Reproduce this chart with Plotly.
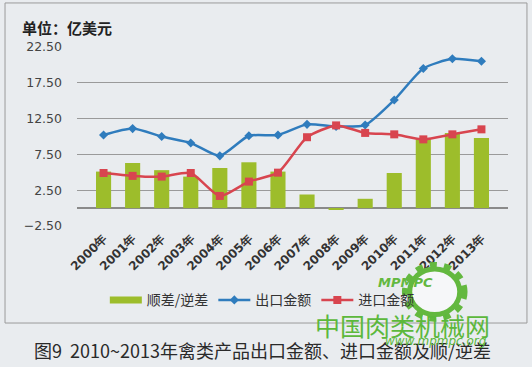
import plotly.graph_objects as go

years = ["2000年", "2001年", "2002年", "2003年", "2004年", "2005年", "2006年",
         "2007年", "2008年", "2009年", "2010年", "2011年", "2012年", "2013年"]
balance = [5.1, 6.3, 5.3, 4.4, 5.6, 6.4, 5.1, 1.9, -0.2, 1.3, 4.9, 9.7, 10.5, 9.8]
exports = [10.2, 11.1, 10.0, 9.1, 7.3, 10.1, 10.2, 11.7, 11.4, 11.6, 15.1, 19.5, 20.85, 20.5]
imports = [4.9, 4.5, 4.4, 4.9, 1.7, 3.7, 4.95, 9.9, 11.55, 10.5, 10.3, 9.6, 10.3, 11.0]
y_ticks = [-2.5, 2.5, 7.5, 12.5, 17.5, 22.5]

CJK = "Noto Sans CJK SC, DejaVu Sans, sans-serif"
GREEN = "#9dbd2b"
BLUE = "#2f7cbd"
RED = "#d8454f"

fig = go.Figure()
fig.add_trace(go.Bar(x=years, y=balance, name="顺差/逆差", showlegend=False,
                     marker=dict(color=GREEN, line=dict(width=0)), width=0.52))
# legend proxy for the bar series (wide flat swatch as in the reference)
fig.add_trace(go.Scatter(x=[None], y=[None], name="顺差/逆差", mode="lines",
                         line=dict(color=GREEN, width=7)))
fig.add_trace(go.Scatter(x=years, y=exports, name="出口金额", mode="lines+markers",
                         line=dict(color=BLUE, width=2.5, shape="spline", smoothing=0.6),
                         marker=dict(symbol="diamond", size=7, color=BLUE)))
fig.add_trace(go.Scatter(x=years, y=imports, name="进口金额", mode="lines+markers",
                         line=dict(color=RED, width=2.5, shape="spline", smoothing=0.6),
                         marker=dict(symbol="square", size=8, color=RED)))

fig.update_layout(
    width=532, height=367,
    margin=dict(l=77, r=24, t=47, b=141),
    paper_bgcolor="#e9ecef", plot_bgcolor="rgba(0,0,0,0)",
    font=dict(family=CJK, color="#333333"),
    showlegend=True,
    legend=dict(orientation="h", x=0.43, xanchor="center", y=-0.415, yanchor="middle",
                font=dict(size=14, color="#333333", family=CJK),
                bgcolor="rgba(0,0,0,0)", itemwidth=32, tracegroupgap=0),
    xaxis=dict(tickangle=-45, tickfont=dict(size=12, family="DejaVu Sans, sans-serif", color="#333333", weight="bold"),
               showgrid=False, showline=False, ticks="", ticklabelstandoff=2),
    yaxis=dict(range=[-2.5, 22.5], tickvals=y_ticks, tickformat=".2f",
               tickfont=dict(size=12.5, family="DejaVu Sans, sans-serif", color="#444444"),
               showgrid=True, gridcolor="#9a9a9a", gridwidth=1,
               zeroline=True, zerolinecolor="#8a8a8a", zerolinewidth=1.5,
               showline=False, ticks="", ticklabelstandoff=14),
    shapes=[
        dict(type="rect", xref="paper", yref="paper", x0=-0.167, x1=1.044, y0=-0.542, y1=1.246,
             line=dict(color="#9a9a9a", width=1), fillcolor="rgba(0,0,0,0)", layer="below"),
    ],
    annotations=[
        dict(text="<b>单位：亿美元</b>", xref="paper", yref="paper", x=-0.132, y=1.11, xanchor="left",
             yanchor="middle", showarrow=False,
             font=dict(size=15, color="#222222", family=CJK)),
        dict(text="图9  2010~2013年禽类产品出口金额、进口金额及顺/逆差", xref="paper", yref="paper",
             x=0.43, y=-0.693, xanchor="center", yanchor="middle", showarrow=False,
             font=dict(size=18, color="#2a2a2a", family=CJK)),
    ],
)

# watermark logo (gear-like ring)
fig.add_shape(type="circle", xref="paper", yref="paper",
              x0=0.762, x1=0.898, y0=-0.515, y1=-0.22,
              line=dict(color="#63b83f", width=7, dash="dot"), fillcolor="rgba(0,0,0,0)")
fig.add_shape(type="circle", xref="paper", yref="paper",
              x0=0.772, x1=0.888, y0=-0.495, y1=-0.24,
              line=dict(color="#63b83f", width=5), fillcolor="rgba(255,255,255,0.6)")
fig.add_annotation(text="<i><b>MPMPC</b></i>", xref="paper", yref="paper", x=0.83, y=-0.37,
                   showarrow=False, font=dict(size=13, color="#63b83f", family="DejaVu Sans"))
fig.add_annotation(text="中国肉类机械网", xref="paper", yref="paper", x=0.963, y=-0.553,
                   xanchor="right", yanchor="middle", showarrow=False,
                   font=dict(size=25, color="#5cb83c", family=CJK))
fig.add_annotation(text="<i>www.mpmpc.org</i>", xref="paper", yref="paper", x=0.955, y=-0.645,
                   xanchor="right", yanchor="middle", showarrow=False,
                   font=dict(size=12, color="#5cb83c", family="DejaVu Sans"))

fig.write_html("out.html", config={"displayModeBar": False},
               post_script="document.body.style.margin='0';")
